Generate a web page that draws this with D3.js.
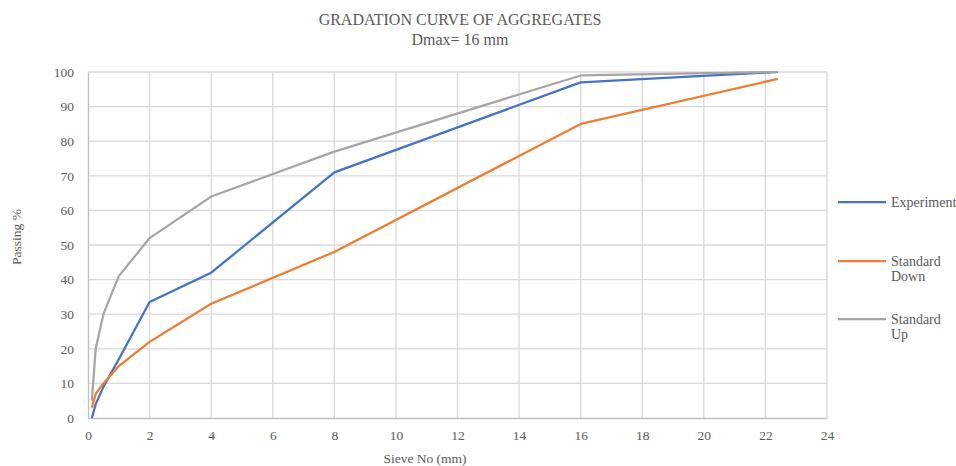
<!DOCTYPE html>
<html>
<head>
<meta charset="utf-8">
<script src="https://cdn.jsdelivr.net/npm/d3@7"></script>
<style>
  html, body { margin: 0; padding: 0; background: #fff; }
  svg { display: block; }
  text { font-family: "Liberation Serif", "DejaVu Serif", serif; fill: #595959; }
</style>
</head>
<body>
<svg id="chart" width="956" height="466"></svg>
<script>
// Sieve sizes (mm) and passing percentages
const sieves      = [0.125, 0.25, 0.5, 1, 2, 4, 8, 16, 22.4];
const experiment  = [0, 4, 9, 17, 33.5, 42, 71, 97, 100];
const standardDown = [3, 7, 10, 15, 22, 33, 48, 85, 98];
const standardUp   = [5, 20, 30, 41, 52, 64, 77, 99, 100];

const seriesNames  = [["Experiment"], ["Standard", "Down"], ["Standard", "Up"]];
const seriesValues = [experiment, standardDown, standardUp];
const colors = ["#4472c4", "#ed7d31", "#a5a5a5"];

const xTicks = d3.range(0, 25, 2);
const yTicks = d3.range(0, 101, 10);

const svg = d3.select("#chart");
const plotL = 88, plotR = 827, plotT = 72, plotB = 418;

const x = d3.scaleLinear().domain([0, 24]).range([plotL, plotR]);
const y = d3.scaleLinear().domain([0, 100]).range([plotB, plotT]);

// Gridlines
const grid = svg.append("g");
grid.selectAll("line.v").data(xTicks.filter(d => d > 0)).join("line")
  .attr("x1", d => x(d)).attr("x2", d => x(d))
  .attr("y1", plotT).attr("y2", plotB)
  .attr("stroke", "#d9d9d9").attr("stroke-width", 1.3);
grid.selectAll("line.h").data(yTicks.filter(d => d > 0)).join("line")
  .attr("x1", plotL).attr("x2", plotR)
  .attr("y1", d => y(d)).attr("y2", d => y(d))
  .attr("stroke", "#d9d9d9").attr("stroke-width", 1.3);

// Axes
const xAxis = svg.append("g").attr("transform", `translate(0,${plotB})`)
  .call(d3.axisBottom(x).tickValues(xTicks).tickSize(0).tickPadding(12));
const yAxis = svg.append("g").attr("transform", `translate(${plotL},0)`)
  .call(d3.axisLeft(y).tickValues(yTicks).tickSize(0).tickPadding(14));
[xAxis, yAxis].forEach(a => {
  a.select(".domain").attr("stroke", "#bfbfbf").attr("stroke-width", 1.3);
  a.selectAll("text").style("font-family", '"Liberation Serif", serif')
    .style("font-size", "13.5px").attr("fill", "#595959");
});

// Series lines
const line = d3.line().x((d, i) => x(sieves[i])).y(d => y(d));
seriesValues.forEach((vals, k) => {
  svg.append("path").datum(vals)
    .attr("d", line)
    .attr("fill", "none")
    .attr("stroke", colors[k])
    .attr("stroke-width", 2.25)
    .attr("stroke-linejoin", "round");
});

// Titles
svg.append("text").attr("x", 460).attr("y", 25).attr("text-anchor", "middle")
  .style("font-size", "16px").text("GRADATION CURVE OF AGGREGATES");
svg.append("text").attr("x", 460).attr("y", 45).attr("text-anchor", "middle")
  .style("font-size", "16px").text("Dmax= 16 mm");

// Axis titles
svg.append("text").attr("x", 425).attr("y", 463).attr("text-anchor", "middle")
  .style("font-size", "13.5px").text("Sieve No (mm)");
svg.append("text").attr("transform", "translate(21,237) rotate(-90)")
  .attr("text-anchor", "middle").style("font-size", "13.5px").text("Passing %");

// Legend
const legendY = [202, 261, 319];
seriesNames.forEach((lines, k) => {
  const g = svg.append("g").attr("transform", `translate(838,${legendY[k]})`);
  g.append("line").attr("x1", 0).attr("x2", 48).attr("y1", 0).attr("y2", 0)
    .attr("stroke", colors[k]).attr("stroke-width", 2.25);
  const t = g.append("text").attr("x", 53).attr("y", 4.5).style("font-size", "14px");
  lines.forEach((s, j) => t.append("tspan").attr("x", 53).attr("dy", j ? 15.5 : 0).text(s));
});
</script>
</body>
</html>
